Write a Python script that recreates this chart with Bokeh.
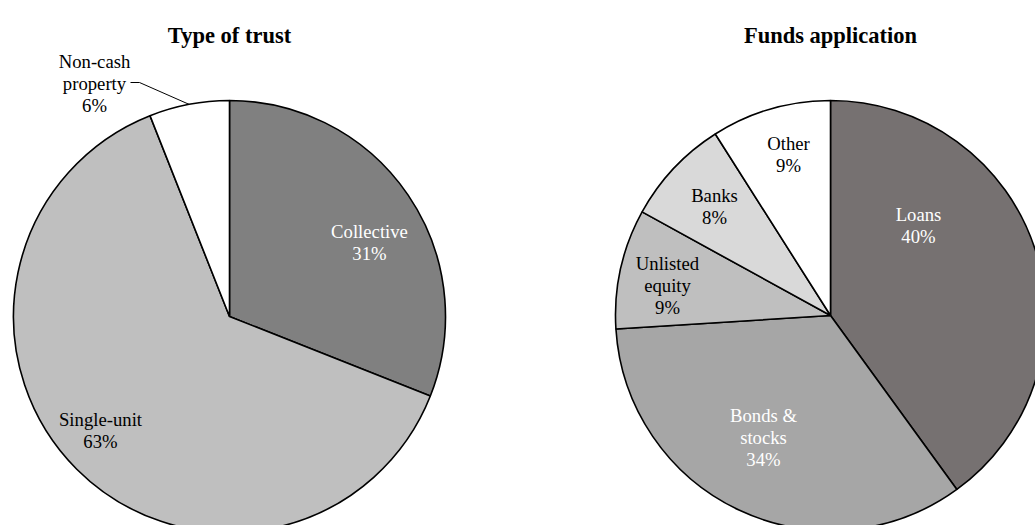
import numpy as np
from bokeh.plotting import figure
from bokeh.models import Range1d, ColumnDataSource
from bokeh.embed import file_html
from bokeh.resources import INLINE
from bokeh.core.properties import value

# ---------------- data ----------------
trust_title = "Type of trust"
trust_labels = ["Collective", "Single-unit", "Non-cash\nproperty"]
trust_values = [31, 63, 6]

funds_title = "Funds application"
funds_labels = ["Loans", "Bonds &\nstocks", "Unlisted\nequity", "Banks", "Other"]
funds_values = [40, 34, 9, 8, 9]

# ---------------- styles ----------------
trust_colors = ["#808080", "#BFBFBF", "#FFFFFF"]
trust_text_colors = ["#FFFFFF", "#000000", "#000000"]
funds_colors = ["#767171", "#A6A6A6", "#BFBFBF", "#D9D9D9", "#FFFFFF"]
funds_text_colors = ["#FFFFFF", "#FFFFFF", "#000000", "#000000", "#000000"]
FONT = "Liberation Serif"
LABEL_SIZE = "18.7px"
TITLE_SIZE = "22.5px"
LINE_H = 22

# ---------------- layout (page pixels) ----------------
W, H = 1035, 525
OX, OY = 0, 0
trust_center = (229, 316)
trust_radius = 216
funds_center = (830, 315)
funds_radius = 215
title_baseline = 35
# label anchor: (centre x, first-line baseline)
trust_label_pos = [(369, 231), (100, 419), (94, 61)]
funds_label_pos = [(918, 214), (763, 415), (667, 263), (714, 195), (788, 143)]
leader_start = [(130, 82), (139, 82)]  # for "Non-cash property"

p = figure(width=W, height=H, output_backend="svg", toolbar_location=None,
           x_axis_type=None, y_axis_type=None, min_border=0,
           x_range=Range1d(OX, OX + W), y_range=Range1d(-(OY + H), -OY))
p.outline_line_color = None
p.xgrid.visible = False
p.ygrid.visible = False
p.background_fill_color = "white"
p.border_fill_color = "white"


def draw_pie(values, labels, colors, text_colors, center, radius, label_pos, title):
    vals = np.array(values, dtype=float)
    frac = vals / vals.sum()
    cum = np.concatenate([[0], np.cumsum(frac)])
    starts = np.pi / 2 - 2 * np.pi * cum[1:]
    ends = np.pi / 2 - 2 * np.pi * cum[:-1]
    src = ColumnDataSource(dict(x=[center[0]] * len(vals), y=[-center[1]] * len(vals),
                                start=starts, end=ends, color=colors))
    p.wedge(x="x", y="y", radius=radius, start_angle="start", end_angle="end",
            direction="anticlock", fill_color="color", line_color="black",
            line_width=1.6, source=src)

    tx, ty, tt, tc = [], [], [], []
    for lab, v, (lx, ly), col in zip(labels, values, label_pos, text_colors):
        lines = lab.split("\n") + [f"{v}%"]
        for k, ln in enumerate(lines):
            tx.append(lx)
            ty.append(-(ly + k * LINE_H))
            tt.append(ln)
            tc.append(col)
    p.text(x=tx, y=ty, text=tt, text_color=tc, text_align="center",
           text_baseline="alphabetic", text_font=value(FONT),
           text_font_size=LABEL_SIZE)

    p.text(x=[center[0]], y=[-title_baseline], text=[title], text_align="center",
           text_baseline="alphabetic", text_font=value(FONT),
           text_font_size=TITLE_SIZE, text_font_style="bold", text_color="black")
    mids = np.pi / 2 - 2 * np.pi * (cum[:-1] + cum[1:]) / 2
    return mids


trust_mids = draw_pie(trust_values, trust_labels, trust_colors, trust_text_colors,
                      trust_center, trust_radius, trust_label_pos, trust_title)
draw_pie(funds_values, funds_labels, funds_colors, funds_text_colors,
         funds_center, funds_radius, funds_label_pos, funds_title)

# leader line for the small slice
ang = trust_mids[2]
ex = trust_center[0] + trust_radius * np.cos(ang)
ey = -trust_center[1] + trust_radius * np.sin(ang)
lx = [leader_start[0][0], leader_start[1][0], ex]
ly = [-leader_start[0][1], -leader_start[1][1], ey]
p.line(x=lx, y=ly, line_color="black", line_width=1)

open("out.html", "w").write(file_html(p, INLINE))
